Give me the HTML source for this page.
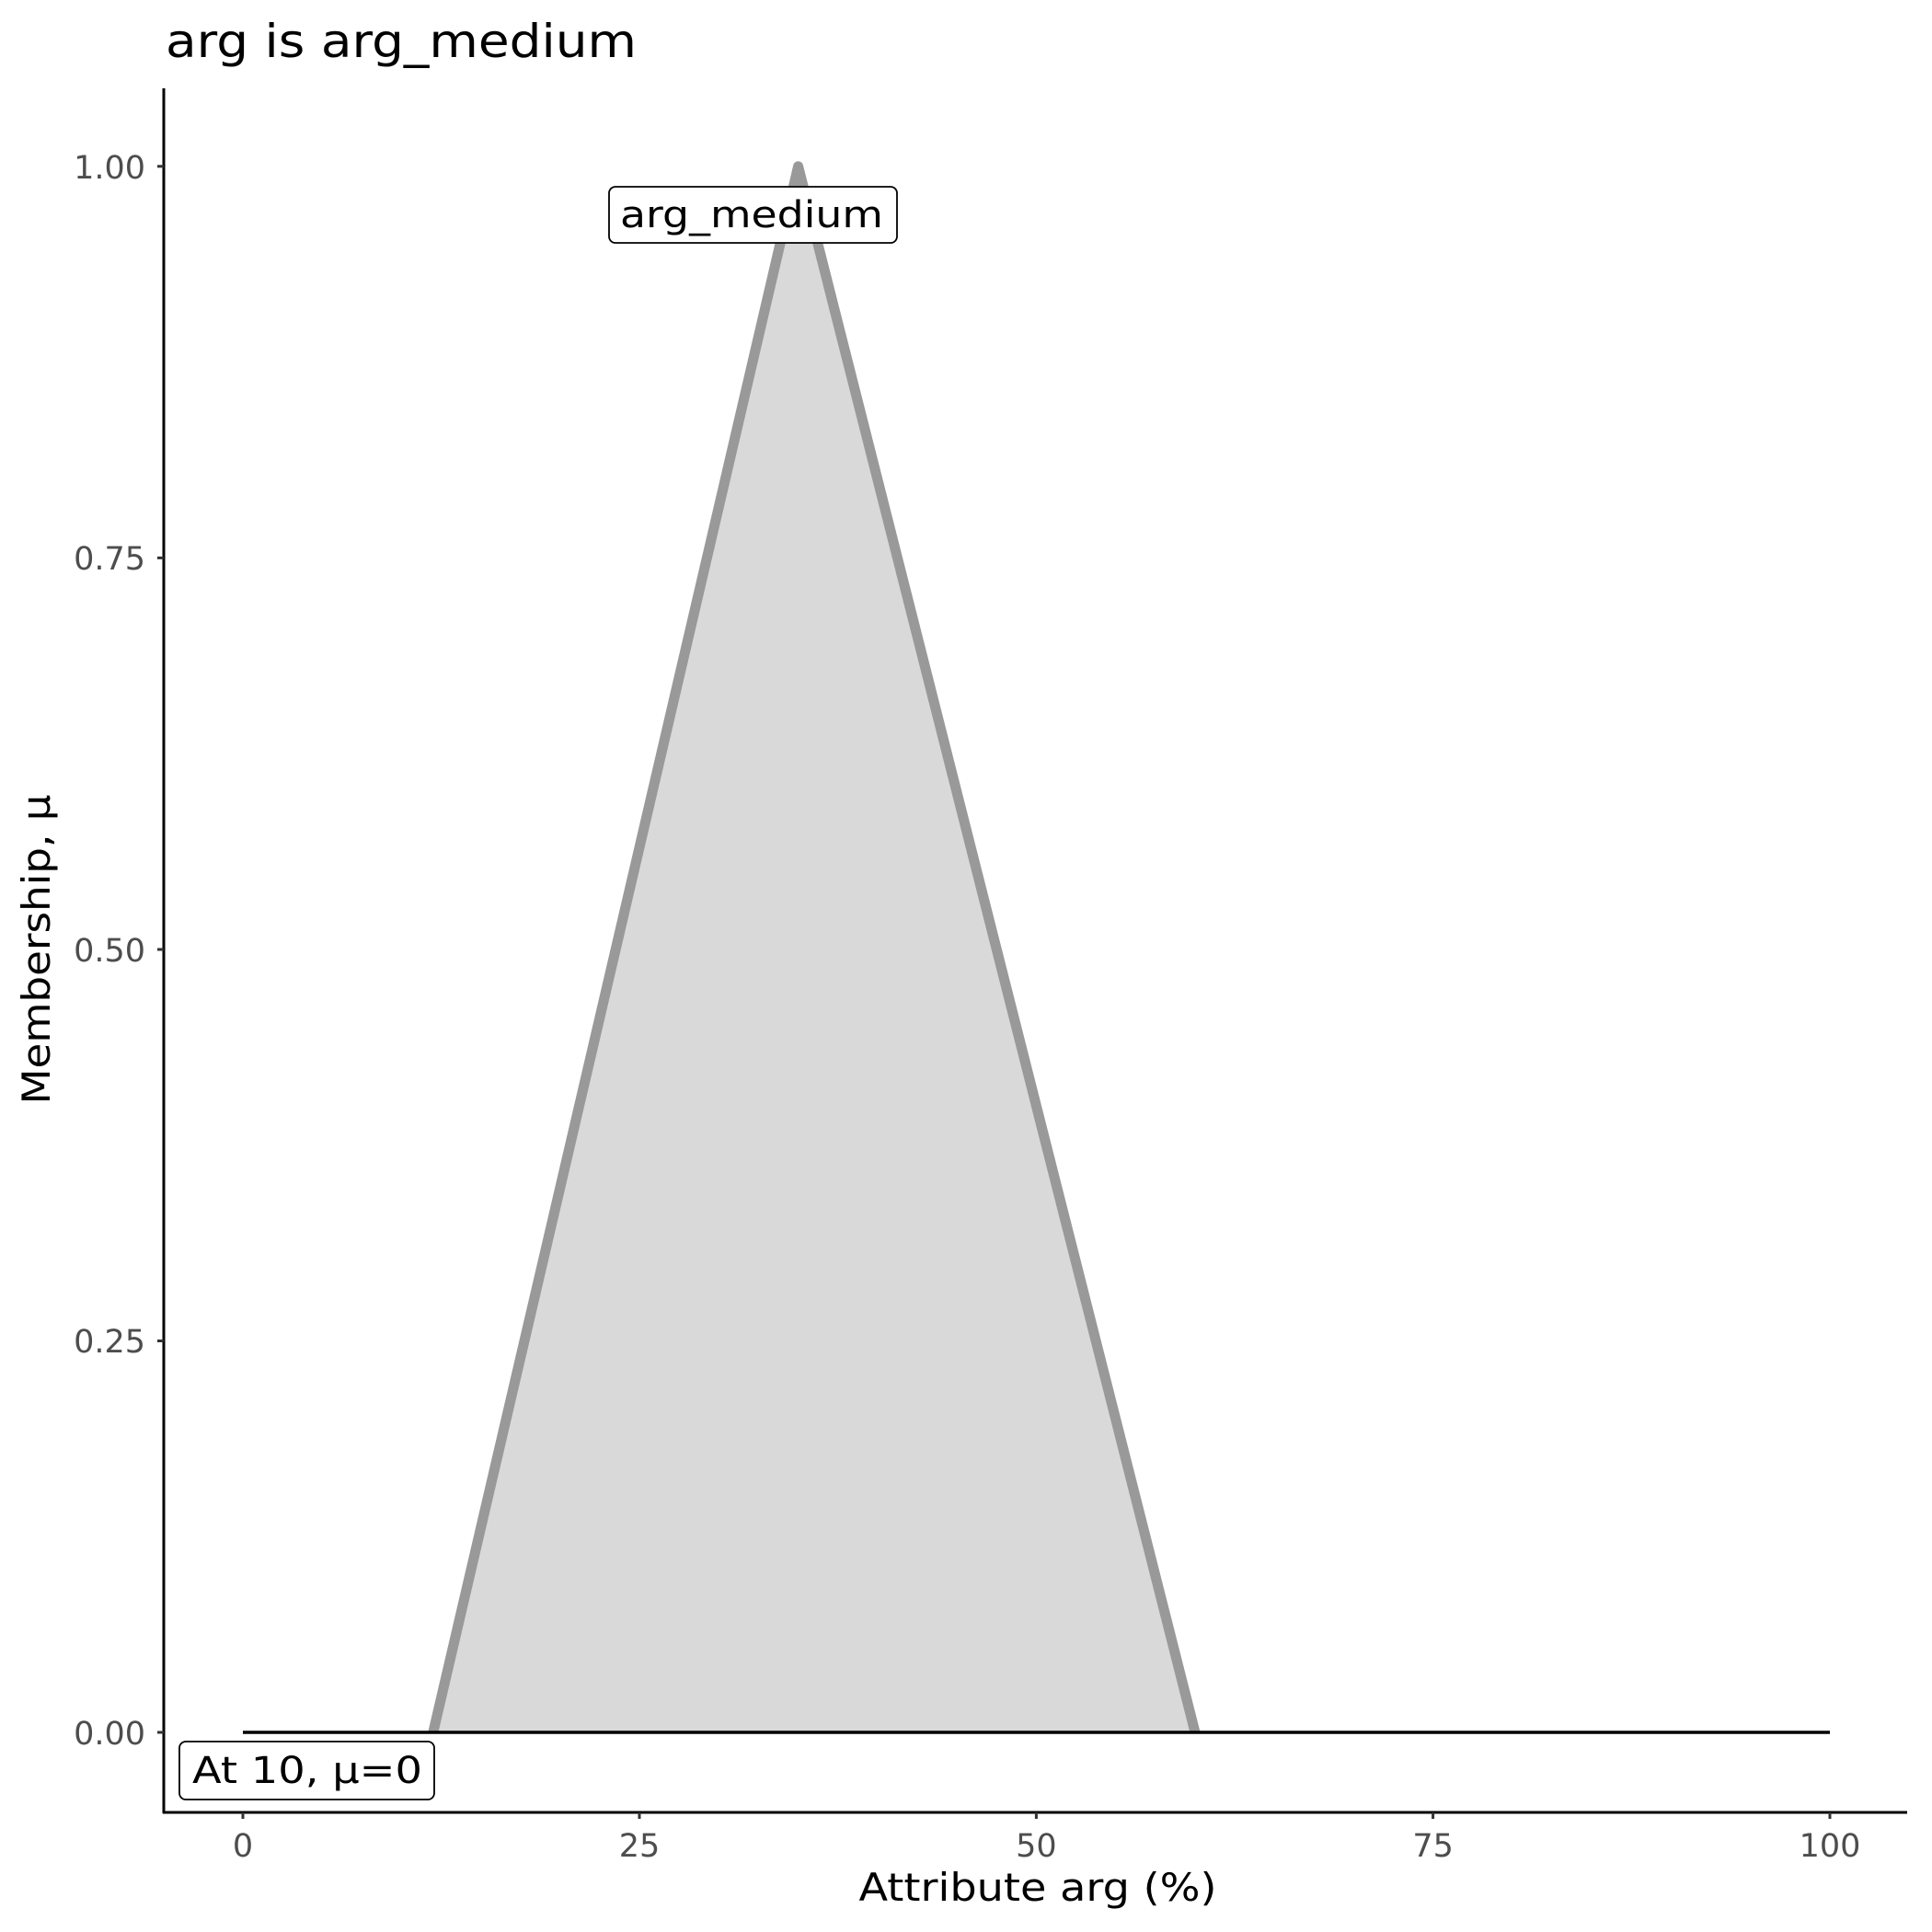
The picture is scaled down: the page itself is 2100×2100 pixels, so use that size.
<!DOCTYPE html>
<html><head><style>body{margin:0;background:#fff}svg{display:block}text{font-family:"DejaVu Sans","Liberation Sans",sans-serif}</style></head>
<body>
<svg width="2100" height="2100" viewBox="0 0 2100 2100" xmlns="http://www.w3.org/2000/svg">
<rect width="2100" height="2100" fill="#fff"/>
<text x="180" y="62" font-size="50" fill="#000" textLength="512" lengthAdjust="spacingAndGlyphs">arg is arg_medium</text>
<polygon points="470.8,1883 867.6,180.8 1299,1883" fill="#d9d9d9"/>
<polyline points="470.8,1883 867.6,180.8 1299,1883" fill="none" stroke="#999" stroke-width="11" stroke-linejoin="round"/>
<line x1="264" y1="1883" x2="1989" y2="1883" stroke="#000" stroke-width="3.5"/>
<line x1="178" y1="96" x2="178" y2="1971" stroke="#000" stroke-width="3"/>
<line x1="177" y1="1970" x2="2073" y2="1970" stroke="#000" stroke-width="3"/>
<g stroke="#333" stroke-width="3">
<line x1="171" y1="180.8" x2="178" y2="180.8"/><line x1="171" y1="606.4" x2="178" y2="606.4"/><line x1="171" y1="1032" x2="178" y2="1032"/><line x1="171" y1="1457.5" x2="178" y2="1457.5"/><line x1="171" y1="1883" x2="178" y2="1883"/>
<line x1="264" y1="1970" x2="264" y2="1977"/><line x1="695" y1="1970" x2="695" y2="1977"/><line x1="1126.4" y1="1970" x2="1126.4" y2="1977"/><line x1="1557.6" y1="1970" x2="1557.6" y2="1977"/><line x1="1989" y1="1970" x2="1989" y2="1977"/>
</g>
<g font-size="35" fill="#4d4d4d" text-anchor="end">
<text x="158" y="194">1.00</text><text x="158" y="619">0.75</text><text x="158" y="1045">0.50</text><text x="158" y="1470">0.25</text><text x="158" y="1896">0.00</text>
</g>
<g font-size="35" fill="#4d4d4d" text-anchor="middle">
<text x="264" y="2018">0</text><text x="695" y="2018">25</text><text x="1126.4" y="2018">50</text><text x="1557.6" y="2018">75</text><text x="1989" y="2018">100</text>
</g>
<text x="1128" y="2066" font-size="42" text-anchor="middle" fill="#000" textLength="389" lengthAdjust="spacingAndGlyphs">Attribute arg (%)</text>
<text transform="translate(54,1032) rotate(-90)" font-size="42" text-anchor="middle" fill="#000" textLength="337" lengthAdjust="spacingAndGlyphs">Membership, μ</text>
<rect x="662" y="203" width="313" height="61" rx="7" fill="#fff" stroke="#000" stroke-width="1.8"/>
<text x="817" y="247" font-size="40" text-anchor="middle" fill="#000" textLength="286" lengthAdjust="spacingAndGlyphs">arg_medium</text>
<rect x="195" y="1893" width="277" height="63" rx="7" fill="#fff" stroke="#000" stroke-width="1.8"/>
<text x="334" y="1938" font-size="40" text-anchor="middle" fill="#000" textLength="250" lengthAdjust="spacingAndGlyphs">At 10, μ=0</text>
</svg>
</body></html>
